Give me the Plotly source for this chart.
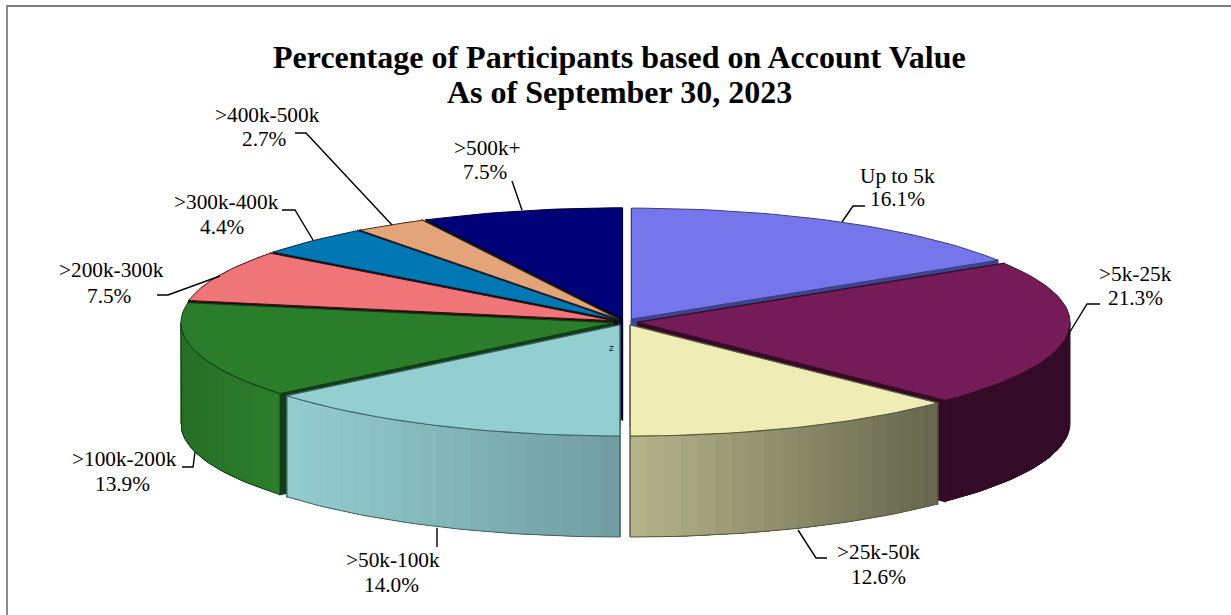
import math
import plotly.graph_objects as go

# Account-value bands and their share of participants
categories = [
    "Up to 5k", ">5k-25k", ">25k-50k", ">50k-100k", ">100k-200k",
    ">200k-300k", ">300k-400k", ">400k-500k", ">500k+",
]
shares = [16.1, 21.3, 12.6, 14.0, 13.9, 7.5, 4.4, 2.7, 7.5]
top_colors = ["#7676ec", "#751b57", "#efedb5", "#93cfd1", "#2a7d2a",
              "#f07578", "#0177b3", "#e2a478", "#000078"]
# Outer wall colour at its left and right ends
wall_left = ["#3c4690", "#340b26", "#b5b48a", "#93cdd0", "#276f27",
             "#7a2c2e", "#013a5a", "#7a5030", "#00002e"]
wall_right = ["#3c4690", "#340b26", "#65664c", "#719da0", "#2b7e2b",
              "#7a2c2e", "#013a5a", "#7a5030", "#00002e"]
radial_colors = ["#3c4690", "#340b26", "#65664c", "#2f5558", "#123d14",
                 "#200808", "#00141f", "#2a1a0e", "#00002e"]
edge_colors = ["#3c3c78", "#3a0d2c", "#55553a", "#3f6365", "#123d14",
               "#3a1011", "#01263c", "#4a2c18", "#00002e"]

# Label centres (x of name, x of percentage, y of name, y of percentage)
label_pos = [(897, 897, 176, 199), (1135, 1135, 274, 298), (878, 878, 552, 577),
             (393, 391, 560, 585), (124, 122, 459, 484), (111, 109, 270, 296),
             (226, 222, 202, 227), (267, 264, 115, 139), (487, 485, 148, 172)]
# Elbow leader from each slice to its label
leader_x = [[842, 853, 865], [1068, 1087, 1100], [798, 816, 827], [437, 437],
            [195, 193, 182], [220, 168, 157], [313, 295, 282], [392, 306, 295],
            [522, 512]]
leader_y = [[222, 206, 206], [335, 304, 304], [530, 558, 558], [528, 547],
            [452, 467, 467], [276, 295, 295], [240, 210, 210], [225, 133, 133],
            [210, 181]]

TITLE_LINES = ["Percentage of Participants based on Account Value",
               "As of September 30, 2023"]

# Projected pie geometry, in pixels of the page
CX, CY = 625.3, 322.0
RX, RY = 432.0, 111.0
DEPTH = 101.0
EXPLODE = 0.0296
SERIF = "Liberation Serif"


def rim(origin, t):
    return origin[0] + RX * math.sin(t), origin[1] - RY * math.cos(t)


def arc(origin, t0, t1, step=math.radians(1.5)):
    n = max(2, int(abs(t1 - t0) / step) + 1)
    return [rim(origin, t0 + (t1 - t0) * i / n) for i in range(n + 1)]


def mix(a, b, f):
    pa = [int(a[i:i + 2], 16) for i in (1, 3, 5)]
    pb = [int(b[i:i + 2], 16) for i in (1, 3, 5)]
    return "#" + "".join(f"{round(x + (y - x) * f):02x}" for x, y in zip(pa, pb))


fig = go.Figure()


def polygon(points, fill, line=None, width=0.0):
    xs = [p[0] for p in points] + [points[0][0]]
    ys = [p[1] for p in points] + [points[0][1]]
    fig.add_trace(go.Scatter(
        x=xs, y=ys, mode="lines", fill="toself", fillcolor=fill,
        line=dict(color=line or fill, width=width),
        hoverinfo="skip", showlegend=False,
    ))


# Angular span of each slice, clockwise from twelve o'clock
total = sum(shares)
spans, running = [], 0.0
for value in shares:
    start = running / total * 2 * math.pi
    running += value
    spans.append((start, running / total * 2 * math.pi))

origins = []
for t0, t1 in spans:
    mid = (t0 + t1) / 2
    origins.append((CX + EXPLODE * RX * math.sin(mid), CY - EXPLODE * RY * math.cos(mid)))

# Paint from the far side of the pie toward the viewer
order = [8, 0, 7, 6, 5, 1, 4, 2, 3]
for i in order:
    t0, t1 = spans[i]
    o = origins[i]
    low = (o[0], o[1] + DEPTH)

    # Cut faces along both radial edges
    for t in (t0, t1):
        r = rim(o, t)
        polygon([o, r, (r[0], r[1] + DEPTH), low], radial_colors[i],
                radial_colors[i], 1.6)

    # Curved outer wall: stacked, overlapping bands give the banded shading
    a0, a1 = max(t0, math.pi / 2), min(t1, 3 * math.pi / 2)
    if a1 > a0:
        strips = 20
        ends = (rim(o, a0)[0], rim(o, a1)[0])
        x_lo, x_hi = min(ends), max(ends)
        for k in range(strips):
            u0 = a0 + (a1 - a0) * k / strips
            u_mid = a0 + (a1 - a0) * (k + 0.5) / strips
            top_edge = arc(o, u0, a1)
            bottom_edge = [(x, y + DEPTH) for x, y in reversed(top_edge)]
            shade = (rim(o, u_mid)[0] - x_lo) / (x_hi - x_lo)
            polygon(top_edge + bottom_edge, mix(wall_left[i], wall_right[i], shade))
        outline = arc(o, a0, a1)
        outline = outline + [(x, y + DEPTH) for x, y in reversed(outline)]
        polygon(outline, "rgba(0,0,0,0)", edge_colors[i], 1.0)

    # Top face
    polygon([o] + arc(o, t0, t1), top_colors[i], edge_colors[i], 1.0)

# Leader lines
for xs, ys in zip(leader_x, leader_y):
    fig.add_trace(go.Scatter(
        x=xs, y=ys, mode="lines", line=dict(color="#000000", width=1.4),
        hoverinfo="skip", showlegend=False,
    ))

# Band name above its percentage
for name, value, (x1, x2, y1, y2) in zip(categories, shares, label_pos):
    fig.add_annotation(x=x1, y=y1, text=name, showarrow=False,
                       font=dict(family=SERIF, size=21.3, color="#000000"))
    fig.add_annotation(x=x2, y=y2, text=f"{value:.1f}%", showarrow=False,
                       font=dict(family=SERIF, size=21.3, color="#000000"))

fig.add_annotation(x=611, y=348, text="z", showarrow=False,
                   font=dict(family="DejaVu Sans", size=9, color="#222222"))

for line, y in zip(TITLE_LINES, (57, 92)):
    fig.add_annotation(x=619, y=y, text=f"<b>{line}</b>", showarrow=False,
                       font=dict(family=SERIF, size=32, color="#000000"))

# Chart frame: only the top and left edges fall on the page
fig.add_trace(go.Scatter(
    x=[7, 7, 1240], y=[640, 6, 6], mode="lines",
    line=dict(color="#7f7f7f", width=1.8), hoverinfo="skip", showlegend=False,
))

fig.update_layout(
    width=1231, height=615, margin=dict(l=0, r=0, t=0, b=0),
    paper_bgcolor="#ffffff", plot_bgcolor="#ffffff", showlegend=False,
    xaxis=dict(range=[0, 1231], visible=False, fixedrange=True),
    yaxis=dict(range=[615, 0], visible=False, fixedrange=True),
)

fig.write_html("out.html", config={"displayModeBar": False})
